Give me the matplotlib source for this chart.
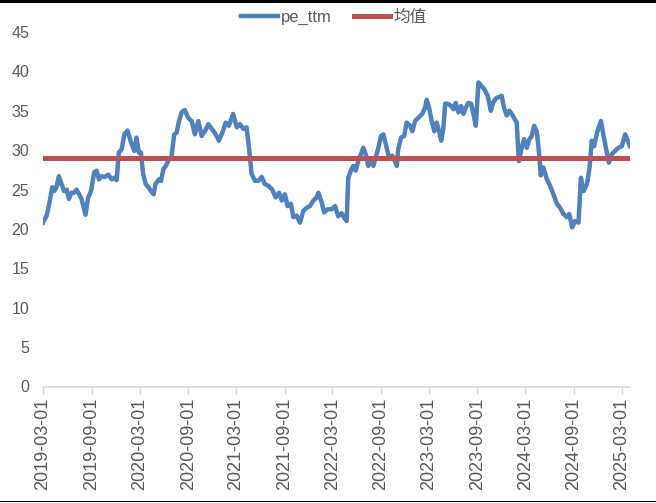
import matplotlib
matplotlib.use("Agg")
import matplotlib.pyplot as plt
import matplotlib.dates as mdates
from matplotlib.patches import Rectangle
import pandas as pd

dates = [
    "2019-03-01", "2019-03-15", "2019-03-27", "2019-04-05", "2019-04-12", "2019-04-21", "2019-04-30",
    "2019-05-10", "2019-05-20", "2019-05-30", "2019-06-07", "2019-06-17", "2019-06-27", "2019-07-06",
    "2019-07-16", "2019-07-25", "2019-08-09", "2019-08-19", "2019-08-30", "2019-09-11", "2019-09-20",
    "2019-09-29", "2019-10-09", "2019-10-21", "2019-11-03", "2019-11-16", "2019-11-26", "2019-12-05",
    "2019-12-13", "2019-12-24", "2020-01-03", "2020-01-15", "2020-01-28", "2020-02-10", "2020-02-18",
    "2020-02-27", "2020-03-06", "2020-03-14", "2020-03-24", "2020-04-03", "2020-04-13", "2020-04-23",
    "2020-04-30", "2020-05-13", "2020-05-21", "2020-05-30", "2020-06-08", "2020-06-17", "2020-06-30",
    "2020-07-10", "2020-07-19", "2020-07-28", "2020-08-07", "2020-08-19", "2020-09-01", "2020-09-14",
    "2020-09-26", "2020-10-09", "2020-10-22", "2020-11-03", "2020-11-16", "2020-11-29", "2020-12-11",
    "2020-12-26", "2021-01-08", "2021-01-21", "2021-02-02", "2021-02-18", "2021-03-04", "2021-03-16",
    "2021-03-29", "2021-04-10", "2021-04-19", "2021-04-29", "2021-05-12", "2021-05-24", "2021-06-06",
    "2021-06-18", "2021-07-01", "2021-07-16", "2021-07-29", "2021-08-11", "2021-08-21", "2021-09-02",
    "2021-09-12", "2021-09-25", "2021-10-04", "2021-10-17", "2021-10-29", "2021-11-11", "2021-11-24",
    "2021-12-06", "2021-12-19", "2021-12-31", "2022-01-07", "2022-01-19", "2022-01-29", "2022-02-11",
    "2022-02-26", "2022-03-11", "2022-03-23", "2022-04-05", "2022-04-15", "2022-04-24", "2022-04-30",
    "2022-05-10", "2022-05-19", "2022-05-28", "2022-06-07", "2022-06-17", "2022-06-26", "2022-07-05",
    "2022-07-15", "2022-07-25", "2022-08-03", "2022-08-12", "2022-08-22", "2022-09-01", "2022-09-10",
    "2022-09-19", "2022-10-01", "2022-10-14", "2022-10-24", "2022-10-31", "2022-11-05", "2022-11-16",
    "2022-11-28", "2022-12-07", "2022-12-20", "2022-12-29", "2023-01-08", "2023-01-20", "2023-02-04",
    "2023-02-15", "2023-02-21", "2023-03-02", "2023-03-12", "2023-03-22", "2023-03-31", "2023-04-09",
    "2023-04-17", "2023-04-25", "2023-05-02", "2023-05-12", "2023-05-25", "2023-06-02", "2023-06-11",
    "2023-06-21", "2023-07-01", "2023-07-10", "2023-07-19", "2023-07-29", "2023-08-08", "2023-08-17",
    "2023-08-26", "2023-09-05", "2023-09-15", "2023-09-28", "2023-10-10", "2023-10-22", "2023-10-30",
    "2023-11-11", "2023-12-02", "2023-12-11", "2023-12-21", "2023-12-31", "2024-01-09", "2024-01-28",
    "2024-02-05", "2024-02-16", "2024-02-25", "2024-03-06", "2024-03-16", "2024-03-25", "2024-04-03",
    "2024-04-13", "2024-04-22", "2024-04-28", "2024-05-08", "2024-05-21", "2024-06-02", "2024-06-15",
    "2024-06-28", "2024-07-10", "2024-07-23", "2024-08-04", "2024-08-14", "2024-08-25", "2024-09-05",
    "2024-09-18", "2024-09-27", "2024-10-07", "2024-10-20", "2024-10-30", "2024-11-07", "2024-11-16",
    "2024-11-27", "2024-12-12", "2024-12-22", "2024-12-31", "2025-01-11", "2025-01-22", "2025-02-03",
    "2025-02-16", "2025-03-01", "2025-03-14", "2025-03-26", "2025-04-01",
]

pe_ttm = [
    20.8, 21.7, 23.6, 25.3, 24.8, 25.3, 26.7,
    25.7, 24.8, 25.0, 23.8, 24.6, 24.6, 25.0,
    24.4, 23.8, 21.8, 24.0, 24.8, 27.2, 27.4,
    26.3, 26.7, 26.6, 26.9, 26.3, 26.5, 26.2,
    29.7, 30.1, 32.0, 32.5, 31.0, 29.9, 31.6,
    29.7, 29.7, 27.0, 25.7, 25.3, 24.8, 24.4,
    25.7, 26.3, 26.1, 27.6, 28.0, 28.6, 29.3,
    32.0, 32.2, 33.7, 34.8, 35.1, 34.1, 33.7,
    32.0, 33.7, 31.8, 32.4, 33.3, 32.7, 32.2,
    31.2, 32.2, 33.5, 33.1, 34.6, 32.9, 33.3,
    32.7, 32.9, 30.3, 27.0, 26.1, 26.1, 26.6,
    25.7, 25.5, 25.0, 24.0, 24.6, 23.6, 24.4,
    22.9, 23.2, 21.5, 21.7, 20.8, 22.3, 22.7,
    22.9, 23.6, 24.0, 24.6, 23.4, 22.1, 22.5,
    22.5, 22.9, 21.6, 22.0, 21.4, 21.0, 26.5,
    27.4, 28.0, 27.4, 28.6, 29.5, 30.3, 29.5,
    28.0, 28.8, 28.0, 29.1, 30.3, 31.8, 32.0,
    30.8, 29.1, 29.3, 28.6, 28.0, 30.1, 31.6,
    31.8, 33.5, 33.1, 32.4, 33.7, 34.1, 34.6,
    35.4, 36.4, 35.4, 33.7, 32.4, 33.5, 32.4,
    31.2, 32.7, 35.9, 35.9, 35.6, 35.2, 36.0,
    34.8, 35.6, 34.6, 35.4, 36.0, 35.9, 34.6,
    33.1, 38.6, 38.2, 37.7, 36.9, 35.0, 36.0,
    36.6, 36.9, 35.4, 34.4, 35.0, 34.6, 33.5,
    28.6, 30.3, 31.4, 30.3, 31.4, 31.8, 33.1,
    32.4, 29.5, 26.8, 27.8, 26.3, 25.5, 24.4,
    23.2, 22.7, 21.9, 21.5, 21.9, 20.2, 21.0,
    20.8, 26.5, 24.8, 25.7, 27.8, 31.2, 30.5,
    32.2, 33.7, 31.8, 30.3, 28.4, 29.5, 29.9,
    30.3, 30.5, 32.0, 31.0, 30.5,
]

mean_value = 29.0
series_names = ["pe_ttm", "均值"]
tick_dates = ["2019-03-01", "2019-09-01", "2020-03-01", "2020-09-01", "2021-03-01",
              "2021-09-01", "2022-03-01", "2022-09-01", "2023-03-01", "2023-09-01",
              "2024-03-01", "2024-09-01", "2025-03-01"]
y_ticks = [0, 5, 10, 15, 20, 25, 30, 35, 40, 45]

plt.rcParams["font.family"] = ["Liberation Sans", "Noto Sans CJK SC", "DejaVu Sans"]

x = pd.to_datetime(dates)
fig = plt.figure(figsize=(6.56, 5.03), dpi=100)
ax = fig.add_axes([43 / 656, 1 - 386.5 / 503, (630 - 43) / 656, (386.5 - 32) / 503])

blue = "#4F81BD"
red = "#C0504D"
gray_txt = "#595959"

ax.plot(x, pe_ttm, color=blue, lw=3.2, label=series_names[0], solid_joinstyle="round")
ax.plot([x[0], x[-1]], [mean_value, mean_value], color=red, lw=3.6, label=series_names[1])

ax.set_xlim(x[0], x[-1])
ax.set_ylim(0, 45)
ax.set_yticks(y_ticks)
ax.set_xticks(pd.to_datetime(tick_dates))
ax.xaxis.set_major_formatter(mdates.DateFormatter("%Y-%m-%d"))

for s in ["top", "right", "left"]:
    ax.spines[s].set_visible(False)
ax.spines["bottom"].set_color("#D9D9D9")
ax.spines["bottom"].set_linewidth(1.2)

ax.tick_params(axis="y", length=0, pad=10, labelsize=11.5, labelcolor=gray_txt)
ax.tick_params(axis="x", length=5, width=1.0, color="#D9D9D9", pad=3,
               labelsize=13, labelcolor=gray_txt, labelrotation=90)

fig.legend(loc="center", bbox_to_anchor=(334 / 656, 1 - 17 / 503), ncol=2, frameon=False,
           fontsize=12, handlelength=2.2, handletextpad=0.2, columnspacing=1.3,
           labelcolor=gray_txt)

# black border bands at top and bottom of the picture
fig.add_artist(Rectangle((0, 1 - 3 / 503), 1, 3 / 503, transform=fig.transFigure,
                         color="black", lw=0))
fig.add_artist(Rectangle((0, 1 / 503), 1, 1.5 / 503, transform=fig.transFigure,
                         color="black", lw=0))

fig.savefig("out.png", dpi=100)
